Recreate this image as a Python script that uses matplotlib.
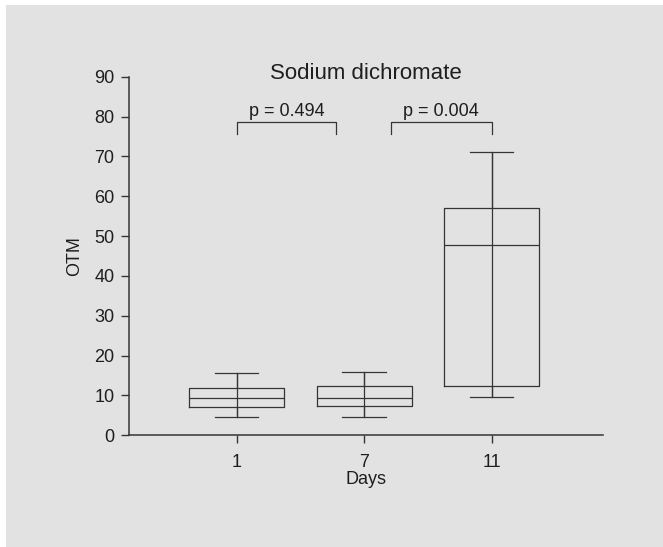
import matplotlib.pyplot as plt
from matplotlib.patches import Rectangle
from matplotlib.transforms import blended_transform_factory

# Data
days = ["1", "7", "11"]
whisker_low = [4.65, 4.55, 9.65]
quartile_1 = [7.1, 7.45, 12.3]
median = [9.45, 9.4, 47.7]
quartile_3 = [11.85, 12.3, 57.0]
whisker_high = [15.7, 15.9, 71.0]

p_labels = ["p = 0.494", "p = 0.004"]
p_spans = [(0.0, 0.78), (1.21, 2.0)]

LINE = "#353535"
TEXT = "#1e1e1e"
BG = "#e2e2e2"

plt.rcParams["font.family"] = ["Liberation Sans", "DejaVu Sans"]

W, H = 663, 547
fig = plt.figure(figsize=(W / 100, H / 100), dpi=100, facecolor="white")
fig.patches.append(
    Rectangle((6 / W, 0), 1 - 6 / W, 1 - 5 / H, transform=fig.transFigure,
              facecolor=BG, edgecolor="none", zorder=-10)
)

ax = fig.add_axes([129 / W, (H - 435.3) / H, (603 - 129) / W, (435.3 - 76.7) / H])
ax.set_facecolor("none")

positions = list(range(len(days)))
stats = []
for i in positions:
    stats.append(
        {
            "med": median[i],
            "q1": quartile_1[i],
            "q3": quartile_3[i],
            "whislo": whisker_low[i],
            "whishi": whisker_high[i],
            "fliers": [],
        }
    )

style = {"color": LINE, "linewidth": 0.9}
ax.bxp(
    stats,
    positions=positions,
    widths=0.745,
    capwidths=0.34,
    showfliers=False,
    boxprops=style,
    whiskerprops=style,
    capprops=style,
    medianprops=style,
)
# whisker line drawn straight through each box
ax.vlines(positions, whisker_low, whisker_high, color=LINE, linewidth=0.9)

# significance brackets
for (x0, x1), label in zip(p_spans, p_labels):
    ax.plot([x0, x0, x1, x1], [75.5, 78.6, 78.6, 75.5], color=LINE,
            linewidth=0.9, clip_on=False)
    ax.text((x0 + x1) / 2, 80.1, label, ha="center", va="baseline",
            fontsize=13, color=TEXT)

title_tr = blended_transform_factory(ax.transAxes, ax.transData)
ax.text(0.5, 89.4, "Sodium dichromate", transform=title_tr,
        ha="center", va="baseline", fontsize=16, color=TEXT)

ax.set_xlim(-0.845, 2.875)
ax.set_ylim(0, 90)
ax.set_yticks(range(0, 91, 10))
ax.set_xticks(positions)
ax.set_xticklabels(days)

for side in ("top", "right"):
    ax.spines[side].set_visible(False)
for side in ("left", "bottom"):
    ax.spines[side].set_color(LINE)
    ax.spines[side].set_linewidth(1.1)

ax.tick_params(axis="both", colors=LINE, labelcolor=TEXT, labelsize=13,
               width=1.0, length=6)
ax.tick_params(axis="y", pad=4.5)
ax.tick_params(axis="x", pad=7.5)

ax.set_xlabel("Days", fontsize=13, color=TEXT, labelpad=0)
ax.set_ylabel("OTM", fontsize=13, color=TEXT, labelpad=8)

fig.savefig("out.png", dpi=100, facecolor=fig.get_facecolor())
